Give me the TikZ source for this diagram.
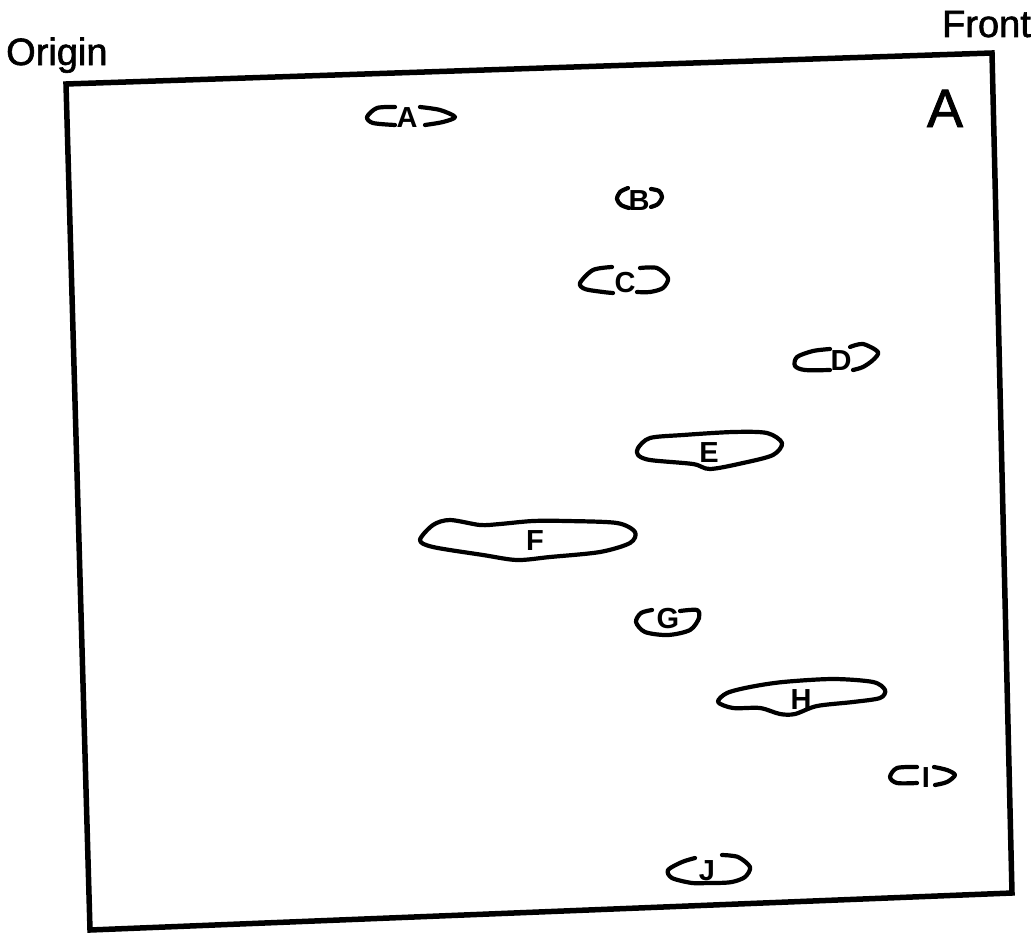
\documentclass[tikz,border=0pt]{standalone}
\usepackage{fontspec}
\setmainfont{Liberation Sans}
\newfontfamily\headfont[FakeBold=1.6]{Liberation Sans}
\begin{document}
\begin{tikzpicture}[x=1pt,y=-1pt,
  frame/.style={line width=5.5pt, line join=miter},
  blob/.style={line width=4.2pt, line cap=round, line join=round},
  spot/.style={font=\fontsize{29}{29}\selectfont\bfseries, inner sep=0pt, anchor=base},
  headtext/.style={font=\headfont\fontsize{38}{38}\selectfont, inner sep=0pt}]
\useasboundingbox (0,0) rectangle (1035,934);

% gel frame
\coordinate (tl) at (66,84);
\coordinate (tr) at (992,53);
\coordinate (br) at (1012,893);
\coordinate (bl) at (90,930);
\draw[frame] (tl) -- (tr) -- (br) -- (bl) -- cycle;

% corner labels and panel letter
\node[headtext, anchor=base west] (origin) at (6,65) {Origin};
\node[headtext, anchor=base east] (front) at (1031,37) {Front};
\node[font=\headfont\fontsize{54}{54}\selectfont, inner sep=0pt, anchor=base] (panel) at (945,127) {A};

% spot A
\draw[blob] plot[smooth] coordinates {(395,107) (377,108) (367,117) (373,123) (395,125)};
\draw[blob] plot[smooth] coordinates {(420,107) (440,110) (455,117) (443,122) (425,125)};
\node[spot] (sA) at (407,127) {A};

% spot B
\draw[blob] plot[smooth] coordinates {(628,188) (620,192) (617,199) (621,205) (629,208)};
\draw[blob] plot[smooth] coordinates {(651,189) (659,191) (662,197) (658,204) (651,207)};
\node[spot] (sB) at (639,210) {B};

% spot C
\draw[blob] plot[smooth] coordinates {(612,267) (593,270) (580,283) (585,289) (603,292) (613,293)};
\draw[blob] plot[smooth] coordinates {(640,268) (657,268) (668,278) (663,288) (650,292) (637,292)};
\node[spot] (sC) at (625,292) {C};

% spot D
\draw[blob] plot[smooth] coordinates {(830,349) (813,351) (797,357) (795,366) (805,370) (830,370)};
\draw[blob] plot[smooth] coordinates {(850,347) (863,344) (878,352) (873,360) (863,367) (853,370)};
\node[spot] (sD) at (841,370) {D};

% spot E
\draw[blob] plot[smooth cycle] coordinates {(638,448) (650,438) (683,435) (733,432) (767,433) (782,443) (773,455) (743,463) (710,469) (693,464) (650,460) (638,455)};
\node[spot] (sE) at (709,462) {E};

% spot F
\draw[blob] plot[smooth cycle] coordinates {(420,540) (433,525) (450,520) (480,525) (500,524) (533,521) (567,521) (617,523) (635,532) (630,543) (600,552) (550,557) (517,560) (483,555) (433,547)};
\node[spot] (sF) at (535,550) {F};

% spot G
\draw[blob] plot[smooth] coordinates {(680,611) (697,610) (699,618) (690,630) (668,635) (645,632) (636,622) (641,613) (652,610)};
\node[spot] (sG) at (668,628) {G};

% spot H
\draw[blob] plot[smooth cycle] coordinates {(718,702) (727,693) (750,687) (783,682) (833,679) (873,682) (885,690) (880,698) (853,702) (817,706) (795,714) (780,714) (760,708) (733,708)};
\node[spot] (sH) at (801,709) {H};

% spot I
\draw[blob] plot[smooth] coordinates {(917,767) (897,768) (890,777) (897,783) (917,783)};
\draw[blob] plot[smooth] coordinates {(934,767) (947,770) (955,775) (947,782) (935,785)};
\node[spot] (sI) at (926,787) {I};

% spot J
\draw[blob] plot[smooth] coordinates {(695,858) (682,862) (668,870) (672,878) (692,883) (708,883) (717,883) (732,882) (745,877) (750,867) (738,857) (722,855)};
\node[spot] (sJ) at (707,880) {J};
\end{tikzpicture}
\end{document}
